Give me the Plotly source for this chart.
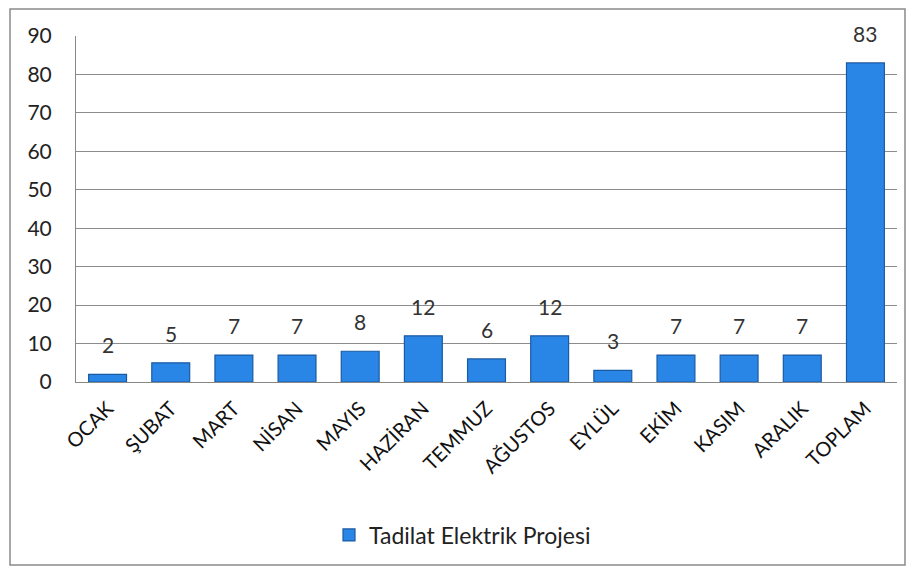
import plotly.graph_objects as go

categories = ["OCAK", "ŞUBAT", "MART", "NİSAN", "MAYIS", "HAZİRAN", "TEMMUZ",
              "AĞUSTOS", "EYLÜL", "EKİM", "KASIM", "ARALIK", "TOPLAM"]
values = [2, 5, 7, 7, 8, 12, 6, 12, 3, 7, 7, 7, 83]
series_name = "Tadilat Elektrik Projesi"
y_ticks = [0, 10, 20, 30, 40, 50, 60, 70, 80, 90]

FONT = "Lato, Open Sans, sans-serif"

fig = go.Figure()
fig.add_trace(go.Bar(
    x=categories, y=values, name=series_name,
    marker=dict(color="#2a86e6", line=dict(color="#1b5aa3", width=1.2)),
    showlegend=True,
))

annotations = [dict(x=c, y=v, xref="x", yref="y", text=str(v), showarrow=False,
                    yanchor="bottom", yshift=15,
                    font=dict(family=FONT, size=21, color="#333333"))
               for c, v in zip(categories, values)]

fig.update_layout(
    width=914, height=569,
    margin=dict(l=68, r=25, t=28, b=195),
    paper_bgcolor="white", plot_bgcolor="white",
    bargap=0.4,
    font=dict(family=FONT, size=20, color="#222222"),
    xaxis=dict(tickangle=-45, showgrid=False, showline=True, linecolor="#888888",
               linewidth=1, ticks="", tickfont=dict(size=20, color="#111111"),
               automargin=False, ticklabelstandoff=6),
    yaxis=dict(range=[0, 90], tickvals=y_ticks, showgrid=True, gridcolor="#8c8c8c",
               gridwidth=1, showline=True, linecolor="#888888", linewidth=1,
               ticks="", tickfont=dict(size=21, color="#222222"), zeroline=False,
               automargin=False, ticklabelstandoff=19),
    showlegend=True,
    legend=dict(orientation="h", x=0.5 - 24/821, xanchor="center", y=-0.442,
                yanchor="middle", font=dict(size=23, color="#222222")),
    annotations=annotations,
    shapes=[dict(type="rect", xref="paper", yref="paper",
                 x0=-66/821, x1=1 + 8/821, y0=-(195 - 12)/346, y1=1 + 27/346,
                 line=dict(color="#8a8a8a", width=1.5), fillcolor="rgba(0,0,0,0)",
                 layer="below")],
)

fig.write_html("out.html")
